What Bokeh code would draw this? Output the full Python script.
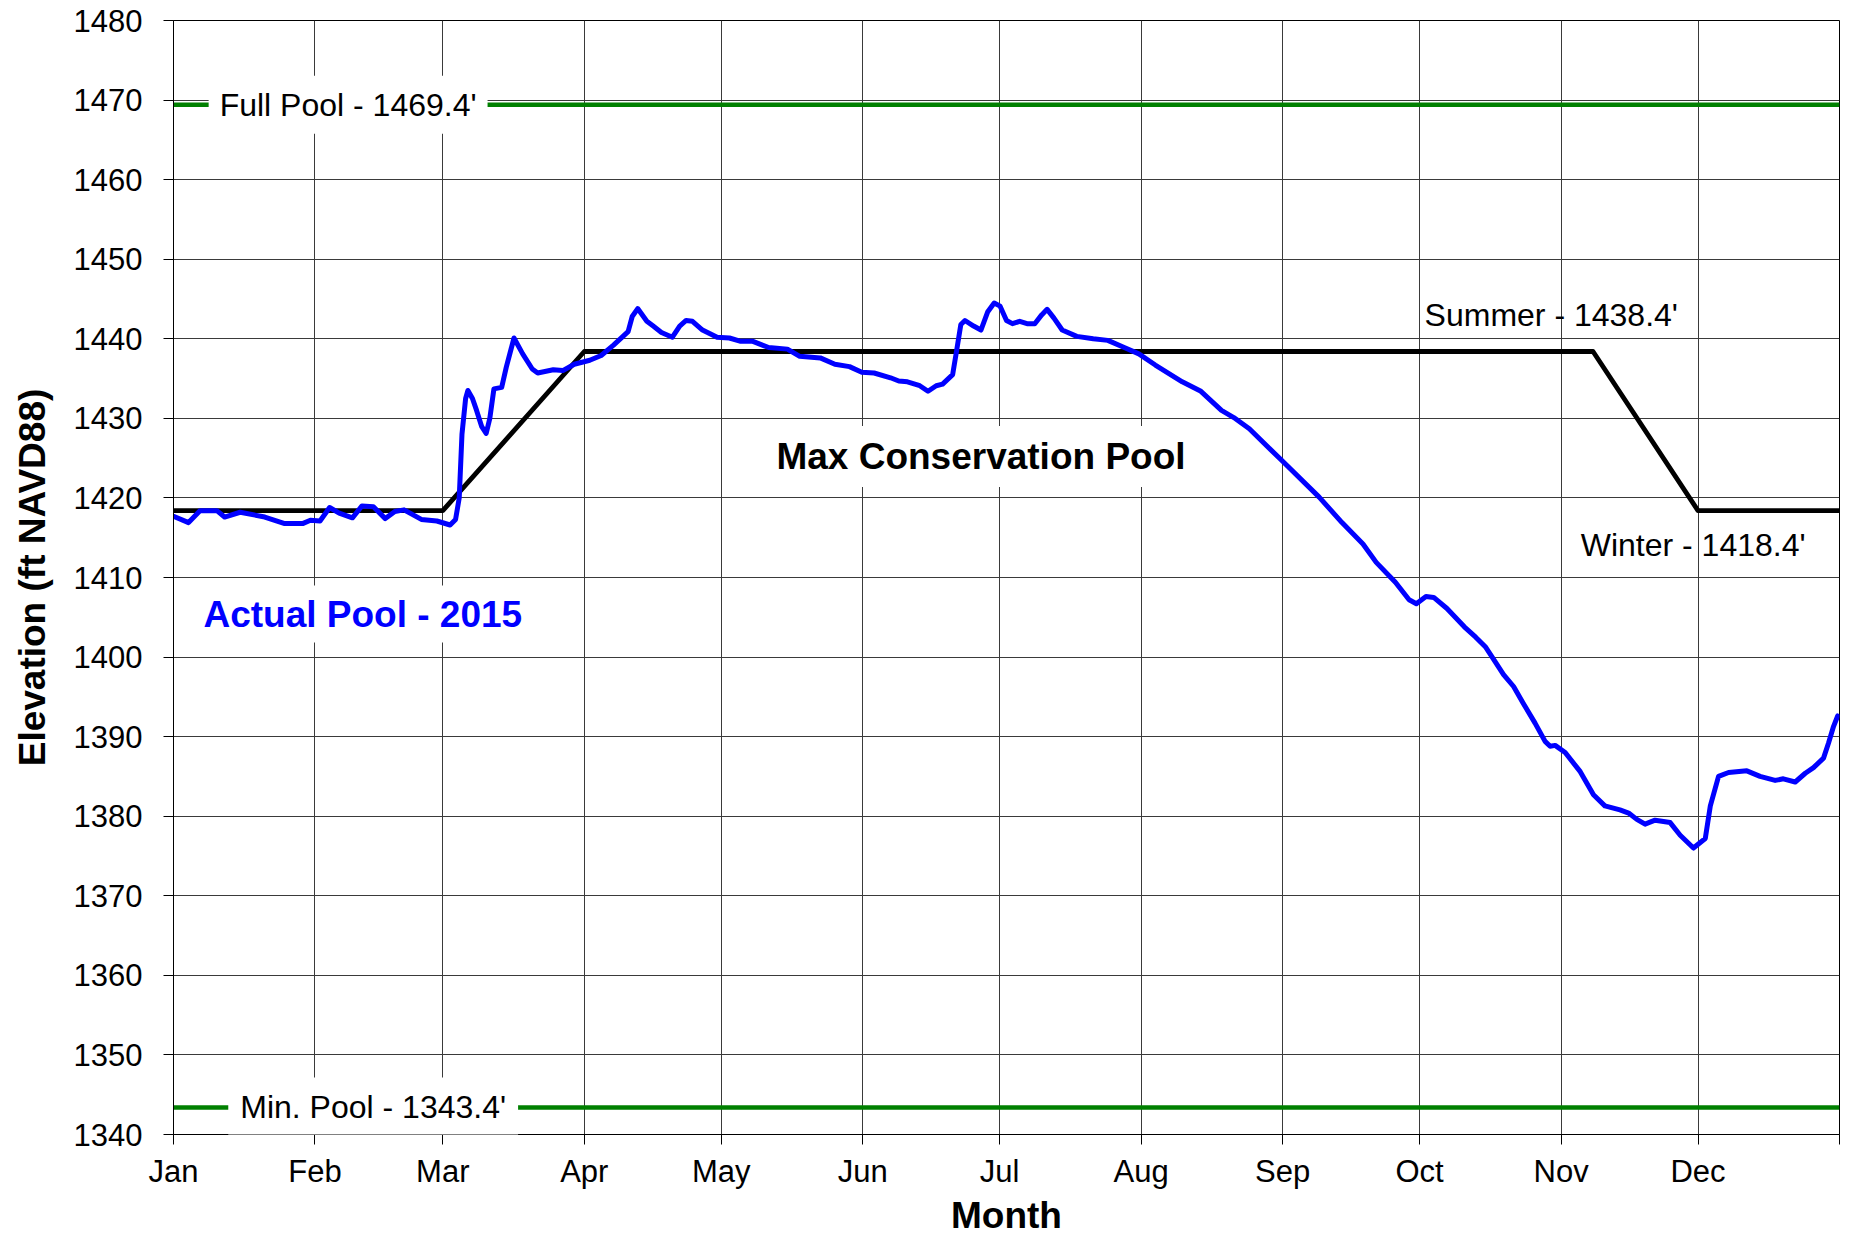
from bokeh.plotting import figure
from bokeh.models import Range1d, FixedTicker, Label
from bokeh.embed import file_html
from bokeh.resources import INLINE

# ---------------- data ----------------
month_days = [0, 31, 59, 90, 120, 151, 181, 212, 243, 273, 304, 334, 365]
month_labels = ["Jan", "Feb", "Mar", "Apr", "May", "Jun", "Jul", "Aug",
                "Sep", "Oct", "Nov", "Dec", ""]
elev_ticks = [1340, 1350, 1360, 1370, 1380, 1390, 1400, 1410, 1420,
              1430, 1440, 1450, 1460, 1470, 1480]

full_pool = 1469.4
min_pool = 1343.4

# Max conservation pool rule curve (day of year, elevation)
rule_day = [0, 59, 90, 311, 334, 365]
rule_elev = [1418.4, 1418.4, 1438.4, 1438.4, 1418.4, 1418.4]

# Actual pool 2015 (day of year, elevation ft)
actual_day = [0, 3.3, 5.8, 9.5, 11.2, 14.6, 20, 24.2, 28.4, 30, 32.1, 34.2, 36.3,
              39.2, 41.3, 43.8, 46.4, 48.5, 50.5, 54.3, 57.7, 60.6, 61.8, 62.6,
              63.2, 64.0, 64.5, 65.5, 66.4, 67.5, 68.5, 69.3, 70.2, 71.9, 72.9,
              74.6, 76.5, 78.6, 79.8, 83.2, 85.3, 87.8, 91.2, 93.7, 96.4, 99.6,
              100.5, 101.7, 103.7, 105.1, 106.9, 109.3, 110.9, 112.3, 113.7, 115.9,
              119.1, 121.8, 124.1, 126.8, 130.4, 134.5, 137.2, 141.7, 144.9, 148.1,
              150.8, 153.5, 157.1, 158.9, 160.8, 163.5, 165.3, 167.1, 168.5, 170.7,
              171.6, 172.5, 173.4, 175.3, 176.9, 178.4, 179.8, 181.1, 182.5, 183.8,
              185.4, 187.0, 188.7, 190.2, 191.4, 192.9, 194.7, 197.9, 201.5, 204.7,
              208.3, 211.5, 215.1, 221.0, 225.1, 229.6, 232.3, 235.7, 243.0, 251.0,
              256.0, 260.6, 263.5, 267.7, 270.7, 272.3, 274.4, 276.1, 279.0, 282.8,
              285.3, 287.4, 288.8, 291.4, 293.6, 295.7, 298.3, 300.5, 301.6, 302.7,
              304.9, 308.2, 311.1, 313.6, 316.9, 318.8, 320.6, 322.4, 324.6, 327.9,
              330.1, 333.0, 335.6, 336.7, 338.5, 340.7, 344.7, 347.6, 350.9, 352.7,
              355.3, 357.5, 359.3, 361.5, 362.6, 363.7, 364.6]
actual_elev = [1417.7, 1416.9, 1418.4, 1418.4, 1417.6, 1418.2, 1417.6, 1416.8, 1416.8,
               1417.2, 1417.1, 1418.8, 1418.1, 1417.5, 1419.0, 1418.9, 1417.4, 1418.3,
               1418.5, 1417.3, 1417.1, 1416.6, 1417.3, 1420.0, 1428.0, 1432.5, 1433.5,
               1432.5, 1431.0, 1429.0, 1428.1, 1430.0, 1433.7, 1433.9, 1436.4, 1440.1,
               1438.1, 1436.2, 1435.7, 1436.1, 1436.0, 1436.8, 1437.3, 1437.9, 1439.2,
               1440.9, 1442.8, 1443.8, 1442.2, 1441.6, 1440.8, 1440.2, 1441.6, 1442.3,
               1442.2, 1441.1, 1440.2, 1440.1, 1439.7, 1439.7, 1438.9, 1438.7, 1437.8,
               1437.6, 1436.8, 1436.5, 1435.8, 1435.7, 1435.1, 1434.7, 1434.6, 1434.1,
               1433.4, 1434.1, 1434.3, 1435.5, 1438.6, 1441.8, 1442.3, 1441.6, 1441.1,
               1443.4, 1444.5, 1444.1, 1442.3, 1441.9, 1442.2, 1441.9, 1441.9, 1443.0,
               1443.7, 1442.6, 1441.1, 1440.3, 1440.0, 1439.8, 1438.9, 1438.1, 1436.7,
               1434.6, 1433.4, 1431.0, 1430.1, 1428.7, 1424.6, 1420.1, 1416.9, 1414.2,
               1411.9, 1409.4, 1407.2, 1406.7, 1407.6, 1407.5, 1406.1, 1403.8, 1402.5,
               1401.3, 1400.1, 1397.8, 1396.3, 1394.2, 1391.7, 1389.4, 1388.8, 1388.9,
               1388.0, 1385.6, 1382.7, 1381.3, 1380.8, 1380.4, 1379.6, 1379.0, 1379.5,
               1379.2, 1377.6, 1376.0, 1377.2, 1381.3, 1385.0, 1385.5, 1385.7, 1385.0,
               1384.5, 1384.7, 1384.3, 1385.4, 1386.1, 1387.3, 1389.2, 1391.3, 1392.6]

FONT = "Liberation Sans"

p = figure(width=1845, height=1238,
           x_range=Range1d(0, 365), y_range=Range1d(1340, 1480),
           output_backend="svg", toolbar_location=None,
           min_border_left=173, min_border_right=6,
           min_border_top=20, min_border_bottom=103)
p.background_fill_color = "white"
p.border_fill_color = "white"
p.outline_line_color = "black"
p.outline_line_width = 1

# grid
p.xgrid.ticker = FixedTicker(ticks=month_days)
p.ygrid.ticker = FixedTicker(ticks=elev_ticks)
for g in (p.xgrid, p.ygrid):
    g.grid_line_color = "#3a3a3a"
    g.grid_line_width = 1
    g.grid_line_alpha = 1.0

# axes
p.xaxis.ticker = FixedTicker(ticks=month_days)
p.xaxis.major_label_overrides = {d: m for d, m in zip(month_days, month_labels)}
p.yaxis.ticker = FixedTicker(ticks=elev_ticks)
for ax in (p.xaxis, p.yaxis):
    ax.axis_line_color = "black"
    ax.axis_line_width = 1
    ax.major_tick_line_color = "black"
    ax.major_tick_out = 10
    ax.major_tick_in = 0
    ax.minor_tick_line_color = None
    ax.major_label_text_font = FONT
    ax.major_label_text_font_size = "31px"
    ax.major_label_text_color = "black"
    ax.axis_label_text_font = FONT
    ax.axis_label_text_font_style = "bold"
    ax.axis_label_text_color = "black"
    ax.axis_label_text_font_size = "37px"
p.yaxis.major_label_standoff = 21
p.xaxis.major_label_standoff = 9
p.xaxis.axis_label = "Month"
p.xaxis.axis_label_standoff = 3
p.yaxis.axis_label = "Elevation (ft NAVD88)"
p.yaxis.axis_label_standoff = 18

# reference lines
p.line([0, 365], [full_pool, full_pool], line_color="#008000", line_width=4.5)
p.line([0, 365], [min_pool, min_pool], line_color="#008000", line_width=4.5)
p.line(rule_day, rule_elev, line_color="black", line_width=4.8, line_join="round")
p.line(actual_day, actual_elev, line_color="#0000FF", line_width=5,
       line_join="round", line_cap="round")


def add_label(x, y, text, size, bold=False, color="black", pad=None):
    lab = Label(x=x, y=y, text=text, text_font=FONT, text_font_size=size,
                text_font_style="bold" if bold else "normal",
                text_color=color, text_align="left", text_baseline="middle")
    if pad is not None:
        lab.background_fill_color = "white"
        lab.padding = pad
    p.add_layout(lab)


add_label(7.7, full_pool, "Full Pool - 1469.4'", "32px", pad=11)
add_label(12.0, min_pool, "Min. Pool - 1343.4'", "32px", pad=12)
add_label(4.8, 1405.4, "Actual Pool - 2015", "37px", bold=True, color="#0000FF", pad=8)
add_label(129.9, 1425.2, "Max Conservation Pool", "37px", bold=True, pad=10)
add_label(274.1, 1443.0, "Summer - 1438.4'", "32px")
add_label(308.3, 1414.1, "Winter - 1418.4'", "32px")

open("out.html", "w").write(file_html(p, INLINE))
